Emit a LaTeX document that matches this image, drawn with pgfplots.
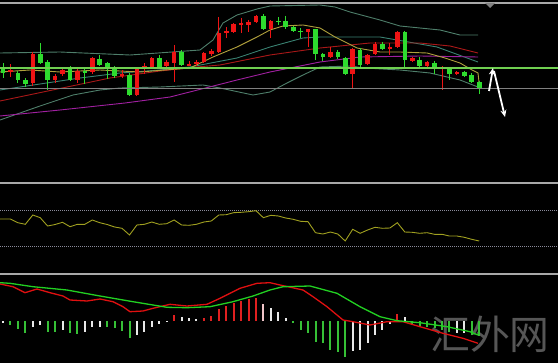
\documentclass[border=0pt]{standalone}
\usepackage{pgfplots}
\pgfplotsset{compat=1.18}
\usepackage{fontspec}
\newfontfamily\cjk{Noto Sans CJK SC}
\usetikzlibrary{arrows.meta}
\definecolor{cgreen}{HTML}{2EDC2E}
\definecolor{cred}{HTML}{EE1414}
\definecolor{bband}{HTML}{4E7E6A}
\definecolor{tealma}{HTML}{3A8272}
\definecolor{yelma}{HTML}{B0A03C}
\definecolor{redma}{HTML}{A81818}
\definecolor{purma}{HTML}{A020A0}
\definecolor{hgreen}{HTML}{6FCF50}
\definecolor{sepgray}{HTML}{A8A8A8}
\definecolor{rsic}{HTML}{A0A020}
\definecolor{dotc}{HTML}{8A8A9A}
\definecolor{hgr}{HTML}{36C036}
\definecolor{hwh}{HTML}{E8E8E8}
\definecolor{hrd}{HTML}{E02020}
\definecolor{hpk}{HTML}{F0C4C8}
\definecolor{mgreen}{HTML}{22D022}
\definecolor{mred}{HTML}{E01010}
\definecolor{wm}{HTML}{565656}
\begin{document}
\begin{tikzpicture}
\fill[black] (0,0) rectangle (558bp,363bp);
\begin{axis}[at={(0,0)}, anchor=south west, width=558bp, height=363bp, scale only axis,
  xmin=0, xmax=558, ymin=0, ymax=363, y dir=reverse, hide axis, clip=true,
  unbounded coords=jump]
% watermark
\node[wm, font=\cjk\fontsize{40}{40}\selectfont, anchor=center] at (axis cs:490,334) {汇外网};
% separators and border
\addplot[sepgray, line width=1.8bp] coordinates {(0,3) (558,3)};
\addplot[sepgray, line width=2bp] coordinates {(0,182.5) (558,182.5)};
\addplot[sepgray, line width=2bp] coordinates {(0,273.5) (558,273.5)};
\addplot[fill=gray, draw=none] coordinates {(485,3) (495,3) (490,8)} -- cycle;
% moving averages and bands
\addplot[bband, line width=0.9bp] coordinates {(0,53) (60,52) (130,55) (200,50) (213,40) (223,23) (237,15) (257,9) (270,6) (320,5) (335,7) (350,12) (380,20) (400,26) (440,30) (460,35) (478,35)};
\addplot[bband, line width=0.9bp] coordinates {(0,120) (40,106) (73,95) (100,90) (120,88) (160,87) (203,85) (220,88) (253,95) (270,92) (287,83) (303,75) (320,67) (350,66) (365,68) (400,70) (430,73) (460,80) (478,87)};
\addplot[tealma, line width=0.9bp] coordinates {(0,90) (40,84) (80,78) (120,73) (160,70) (190,67) (237,58) (270,47) (303,38) (320,37) (380,37) (437,47) (478,62)};
\addplot[purma, line width=0.9bp] coordinates {(0,116) (60,110) (125,103) (170,97) (237,80) (270,72) (320,62) (360,57) (420,56) (478,57)};
\addplot[redma, line width=0.9bp] coordinates {(0,101) (67,87) (110,78) (160,71) (197,67) (220,65) (270,55) (320,48) (370,43) (420,43) (450,46) (478,53)};
\addplot[yelma, line width=0.9bp] coordinates {(0,72) (30,70) (60,72) (100,70) (140,72) (190,68) (213,57) (237,47) (257,37) (270,30) (283,26) (303,25) (320,28) (335,37) (357,48) (380,52) (400,52) (427,53) (445,58) (460,63) (472,70) (478,73) (479,82)};
% green candles
\addplot[cgreen, line width=1bp] coordinates {
(3.0,63)(3.0,78)(3.0,nan) (17.9,71)(17.9,83)(17.9,nan) (25.3,78)(25.3,87)(25.3,nan) (40.2,43)(40.2,64)(40.2,nan)
(47.6,60)(47.6,90)(47.6,nan) (70.0,66)(70.0,81)(70.0,nan) (84.8,69)(84.8,84)(84.8,nan) (99.7,55)(99.7,66)(99.7,nan)
(107.2,62)(107.2,79)(107.2,nan) (114.6,66)(114.6,78)(114.6,nan) (129.5,73)(129.5,96)(129.5,nan) (159.2,55)(159.2,68)(159.2,nan)
(181.6,50)(181.6,66)(181.6,nan) (263.4,14)(263.4,30)(263.4,nan) (278.3,17)(278.3,25)(278.3,nan) (285.7,16)(285.7,29)(285.7,nan)
(293.2,26)(293.2,32)(293.2,nan) (300.6,28)(300.6,38)(300.6,nan) (315.5,29)(315.5,60)(315.5,nan) (322.9,53)(322.9,61)(322.9,nan)
(337.8,50)(337.8,59)(337.8,nan) (345.2,57)(345.2,75)(345.2,nan) (360.1,48)(360.1,67)(360.1,nan) (382.4,42)(382.4,50)(382.4,nan)
(404.8,31)(404.8,68)(404.8,nan) (419.6,57)(419.6,67)(419.6,nan) (434.5,61)(434.5,74)(434.5,nan) (449.4,67)(449.4,80)(449.4,nan)
(464.3,71)(464.3,77)(464.3,nan) (471.7,73)(471.7,83)(471.7,nan) (479.2,81)(479.2,94)};
\addplot[cgreen, line width=4.6bp, line cap=butt] coordinates {
(3.0,67)(3.0,73)(3.0,nan) (17.9,73)(17.9,80)(17.9,nan) (25.3,80)(25.3,84)(25.3,nan) (40.2,54)(40.2,63)(40.2,nan)
(47.6,62)(47.6,80)(47.6,nan) (70.0,68)(70.0,80)(70.0,nan) (84.8,71)(84.8,73)(84.8,nan) (99.7,59)(99.7,65)(99.7,nan)
(107.2,63)(107.2,69)(107.2,nan) (114.6,69)(114.6,76)(114.6,nan) (129.5,75)(129.5,95)(129.5,nan) (159.2,58)(159.2,67)(159.2,nan)
(181.6,52)(181.6,65)(181.6,nan) (263.4,16)(263.4,29)(263.4,nan) (278.3,21)(278.3,22.5)(278.3,nan) (285.7,21)(285.7,27)(285.7,nan)
(293.2,27)(293.2,31)(293.2,nan) (300.6,31)(300.6,32.5)(300.6,nan) (315.5,29)(315.5,54)(315.5,nan) (322.9,54)(322.9,57)(322.9,nan)
(337.8,52)(337.8,57)(337.8,nan) (345.2,58)(345.2,74)(345.2,nan) (360.1,50)(360.1,65)(360.1,nan) (382.4,44)(382.4,49)(382.4,nan)
(404.8,32)(404.8,60)(404.8,nan) (419.6,60)(419.6,66)(419.6,nan) (434.5,63)(434.5,69)(434.5,nan) (449.4,69)(449.4,74)(449.4,nan)
(464.3,72)(464.3,76)(464.3,nan) (471.7,75)(471.7,82)(471.7,nan) (479.2,82)(479.2,88)};
% red candles
\addplot[cred, line width=1bp] coordinates {
(10.4,64)(10.4,77)(10.4,nan) (32.8,52)(32.8,86)(32.8,nan) (55.1,74)(55.1,83)(55.1,nan) (62.5,67)(62.5,76)(62.5,nan)
(77.4,69)(77.4,83)(77.4,nan) (92.3,57)(92.3,74)(92.3,nan) (122.0,70)(122.0,78)(122.0,nan) (136.9,67)(136.9,96)(136.9,nan)
(144.4,63)(144.4,74)(144.4,nan) (151.8,57)(151.8,68)(151.8,nan) (166.7,60)(166.7,67)(166.7,nan) (174.1,45)(174.1,82)(174.1,nan)
(189.0,61)(189.0,66)(189.0,nan) (196.4,60)(196.4,66)(196.4,nan) (203.9,52)(203.9,63)(203.9,nan) (211.3,49)(211.3,56)(211.3,nan)
(218.8,17)(218.8,53)(218.8,nan) (226.2,27)(226.2,38)(226.2,nan) (233.6,23)(233.6,33)(233.6,nan) (241.1,18)(241.1,33)(241.1,nan)
(248.5,20)(248.5,32)(248.5,nan) (256.0,15)(256.0,23)(256.0,nan) (270.8,20)(270.8,38)(270.8,nan) (308.0,29)(308.0,47)(308.0,nan)
(330.4,47)(330.4,58)(330.4,nan) (352.7,48)(352.7,89)(352.7,nan) (367.6,54)(367.6,65)(367.6,nan) (375.0,42)(375.0,55)(375.0,nan)
(389.9,43)(389.9,55)(389.9,nan) (397.3,31)(397.3,48)(397.3,nan) (412.2,57)(412.2,62)(412.2,nan) (427.1,61)(427.1,67)(427.1,nan)
(442.0,66)(442.0,90)(442.0,nan) (456.8,71)(456.8,75)};
\addplot[cred, line width=4.6bp, line cap=butt] coordinates {
(10.4,70)(10.4,72)(10.4,nan) (32.8,54)(32.8,83)(32.8,nan) (55.1,76)(55.1,80)(55.1,nan) (62.5,70)(62.5,74)(62.5,nan)
(77.4,71)(77.4,80)(77.4,nan) (92.3,58)(92.3,72)(92.3,nan) (122.0,74)(122.0,76)(122.0,nan) (136.9,68)(136.9,95)(136.9,nan)
(144.4,66)(144.4,68)(144.4,nan) (151.8,58)(151.8,67)(151.8,nan) (166.7,62)(166.7,66)(166.7,nan) (174.1,52)(174.1,63)(174.1,nan)
(189.0,64)(189.0,65.5)(189.0,nan) (196.4,62)(196.4,64)(196.4,nan) (203.9,53)(203.9,62)(203.9,nan) (211.3,51)(211.3,54)(211.3,nan)
(218.8,33)(218.8,52)(218.8,nan) (226.2,31)(226.2,33)(226.2,nan) (233.6,24)(233.6,32)(233.6,nan) (241.1,23)(241.1,25)(241.1,nan)
(248.5,22)(248.5,25)(248.5,nan) (256.0,16)(256.0,22)(256.0,nan) (270.8,21)(270.8,29)(270.8,nan) (308.0,29)(308.0,32)(308.0,nan)
(330.4,52)(330.4,57)(330.4,nan) (352.7,49)(352.7,74)(352.7,nan) (367.6,55)(367.6,64)(367.6,nan) (375.0,44)(375.0,54)(375.0,nan)
(389.9,47)(389.9,49)(389.9,nan) (397.3,32)(397.3,47)(397.3,nan) (412.2,58)(412.2,61)(412.2,nan) (427.1,62)(427.1,66)(427.1,nan)
(442.0,67)(442.0,68.5)(442.0,nan) (456.8,72)(456.8,74)};
% horizontal levels
\addplot[hgreen, line width=1.8bp] coordinates {(0,68) (558,68)};
\addplot[gray, line width=1bp] coordinates {(0,88) (558,88)};
% arrows
\addplot[white, line width=1.8bp, -{Stealth[length=7bp,width=6bp]}] coordinates {(489,91) (493,68)};
\addplot[white, line width=1.8bp, -{Stealth[length=7bp,width=6bp]}] coordinates {(494,71) (505,117)};
% RSI panel
\addplot[dotc, line width=0.8bp, dash pattern=on 1bp off 1bp] coordinates {(0,210.7) (558,210.7)};
\addplot[dotc, line width=0.8bp, dash pattern=on 1bp off 1bp] coordinates {(0,246.7) (558,246.7)};
\addplot[rsic, line width=0.9bp] coordinates {
(0,219) (3.0,219) (10.4,219) (17.9,222.7) (25.3,224.3) (32.8,215) (40.2,217.7) (47.6,226) (55.1,224.5) (62.5,222.3) (70.0,226.7)
(77.4,224.3) (84.8,224.3) (92.3,220) (99.7,222.7) (107.2,224.5) (114.6,227) (122.0,228.3) (129.5,235) (136.9,225) (144.4,224.3)
(151.8,222) (159.2,224.3) (166.7,223.7) (174.1,220) (181.6,225) (189.0,225.3) (196.4,224.3) (203.9,222) (211.3,221) (218.8,215)
(226.2,214.7) (233.6,212.7) (241.1,212.3) (248.5,211.7) (256.0,210.7) (263.4,217.7) (270.8,215.3) (278.3,216) (285.7,218) (293.2,219.3)
(300.6,221.3) (308.0,221.7) (315.5,232.7) (322.9,234) (330.4,232) (337.8,234) (345.2,241) (352.7,229.3) (360.1,233.3) (367.6,230)
(375.0,227.3) (382.4,228.3) (389.9,228) (397.3,222.7) (404.8,232) (412.2,232.3) (419.6,233.3) (427.1,232.7) (434.5,234.3) (442.0,234.3)
(449.4,236) (456.8,236) (464.3,237.3) (471.7,239.3) (479.2,241)};
% MACD histogram
\addplot[hgr, line width=2bp, line cap=butt] coordinates {
(10.4,321)(10.4,325)(10.4,nan) (17.9,321)(17.9,329.3)(17.9,nan) (25.3,321)(25.3,333.3)(25.3,nan) (47.6,321)(47.6,332.3)(47.6,nan)
(55.1,321)(55.1,331.7)(55.1,nan) (70.0,321)(70.0,333.3)(70.0,nan) (77.4,321)(77.4,334)(77.4,nan) (107.2,321)(107.2,326.7)(107.2,nan)
(114.6,321)(114.6,328.3)(114.6,nan) (122.0,321)(122.0,330.7)(122.0,nan) (129.5,321)(129.5,338.3)(129.5,nan)
(293.2,321)(293.2,323.3)(293.2,nan) (300.6,321)(300.6,330)(300.6,nan) (308.0,321)(308.0,333.3)(308.0,nan) (315.5,321)(315.5,341.7)(315.5,nan)
(322.9,321)(322.9,343.3)(322.9,nan) (330.4,321)(330.4,350)(330.4,nan) (337.8,321)(337.8,351.7)(337.8,nan) (345.2,321)(345.2,357.3)(345.2,nan)
(412.2,321)(412.2,324)(412.2,nan) (419.6,321)(419.6,326)(419.6,nan) (427.1,321)(427.1,326.7)(427.1,nan) (434.5,321)(434.5,328.3)(434.5,nan)
(442.0,321)(442.0,330)(442.0,nan) (449.4,321)(449.4,331.7)(449.4,nan) (471.7,321)(471.7,335)(471.7,nan) (479.2,321)(479.2,336)};
\addplot[hwh, line width=2bp, line cap=butt] coordinates {
(3.0,321)(3.0,323.3)(3.0,nan) (32.8,321)(32.8,326.7)(32.8,nan) (40.2,321)(40.2,325)(40.2,nan) (62.5,321)(62.5,330)(62.5,nan)
(84.8,321)(84.8,331.7)(84.8,nan) (92.3,321)(92.3,327.3)(92.3,nan) (99.7,321)(99.7,326.7)(99.7,nan) (136.9,321)(136.9,335)(136.9,nan)
(144.4,321)(144.4,331.7)(144.4,nan) (151.8,321)(151.8,326.7)(151.8,nan) (159.2,321)(159.2,324)(159.2,nan) (166.7,321)(166.7,322)(166.7,nan)
(181.6,321)(181.6,316.7)(181.6,nan) (189.0,321)(189.0,318.3)(189.0,nan) (196.4,321)(196.4,319)(196.4,nan)
(270.8,321)(270.8,308)(270.8,nan) (278.3,321)(278.3,311.7)(278.3,nan) (285.7,321)(285.7,317.7)(285.7,nan)
(352.7,321)(352.7,351)(352.7,nan) (360.1,321)(360.1,350)(360.1,nan) (367.6,321)(367.6,343.3)(367.6,nan) (375.0,321)(375.0,335)(375.0,nan)
(382.4,321)(382.4,330)(382.4,nan) (389.9,321)(389.9,324)(389.9,nan) (404.8,321)(404.8,316.7)(404.8,nan)
(456.8,321)(456.8,332.7)(456.8,nan) (464.3,321)(464.3,333.3)};
\addplot[hpk, line width=2bp, line cap=butt] coordinates {(263.4,321)(263.4,304.3)};
\addplot[hrd, line width=2bp, line cap=butt] coordinates {
(174.1,321)(174.1,315)(174.1,nan) (203.9,321)(203.9,317.7)(203.9,nan) (211.3,321)(211.3,316)(211.3,nan) (218.8,321)(218.8,309.3)(218.8,nan)
(226.2,321)(226.2,306)(226.2,nan) (233.6,321)(233.6,302.7)(233.6,nan) (241.1,321)(241.1,300.7)(241.1,nan) (248.5,321)(248.5,299)(248.5,nan)
(256.0,321)(256.0,297.7)(256.0,nan) (397.3,321)(397.3,314)};
% MACD lines
\addplot[mred, line width=1.3bp] coordinates {(0,284) (13,286.7) (25,292.7) (37,289) (50,292.7) (63,296) (70,300) (87,301) (100,299) (113,301.7) (123,306.7) (130,311.7) (143,311) (153,308.3) (170,304.3) (187,306) (207,304.3) (220,298.3) (240,288.3) (257,283.3) (270,282.7) (280,285) (303,290) (313,296.7) (327,306.7) (343,320) (353,321.7) (370,325) (387,321.7) (403,321.7) (420,326.7) (443,333.3) (463,338.3) (478,343.3)};
\addplot[mgreen, line width=1.3bp] coordinates {(0,282.7) (10,283.3) (33,286.7) (67,290) (100,296) (133,301.7) (167,307.3) (187,307.7) (210,306.7) (233,301.7) (253,296) (270,290) (283,286.7) (310,286) (337,293.3) (360,306.7) (380,316.7) (397,320.7) (420,322.7) (447,326.7) (470,331.7) (478,335)};
\end{axis}
\end{tikzpicture}
\end{document}
